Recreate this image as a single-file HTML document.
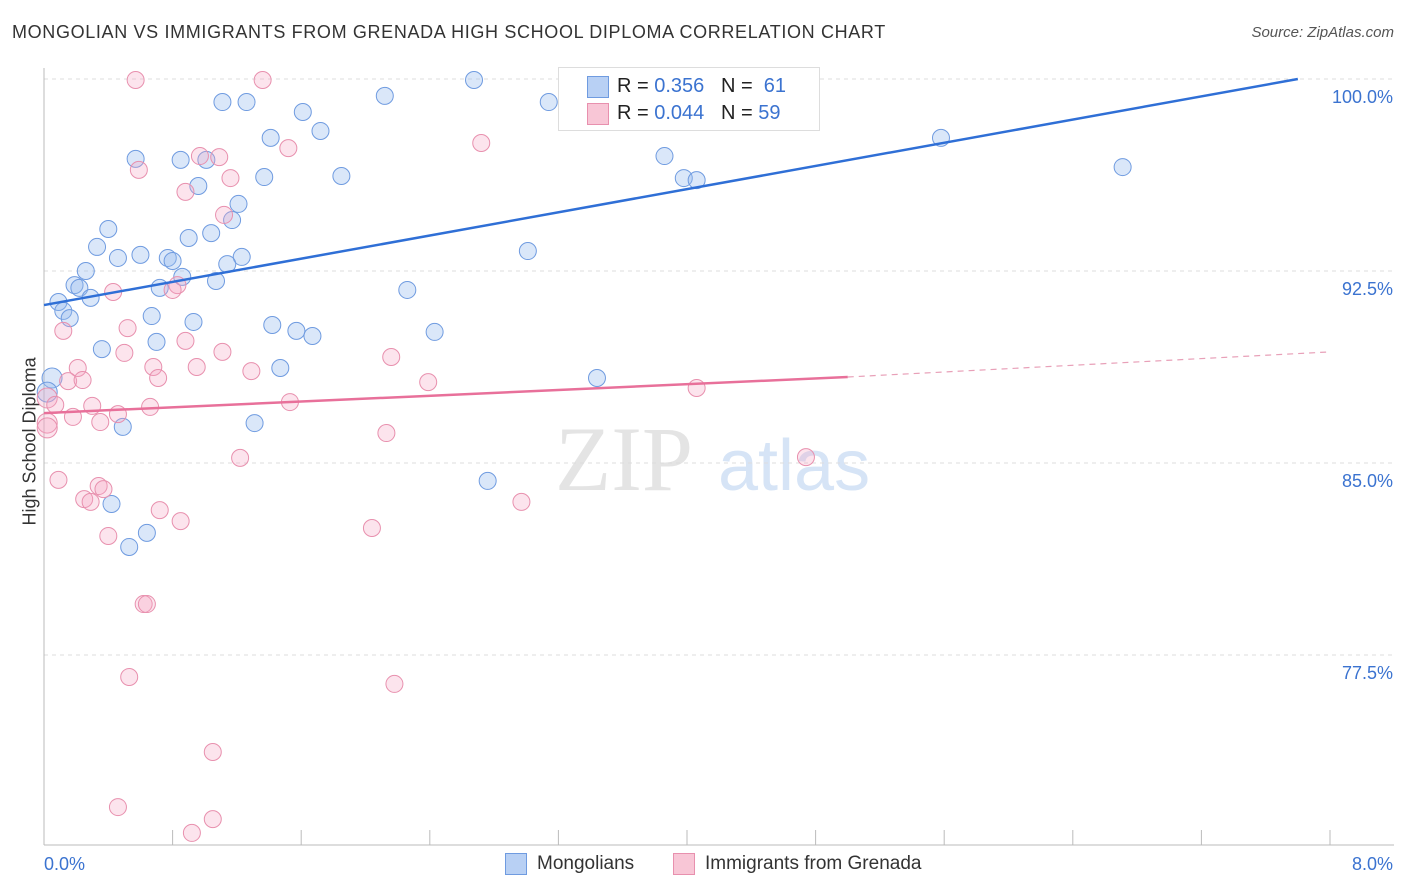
<!DOCTYPE html>
<html><head><meta charset="utf-8"><style>
body{margin:0;background:#fff;font-family:"Liberation Sans",sans-serif;}
#wrap{position:relative;width:1406px;height:892px;overflow:hidden;}
.t{position:absolute;white-space:nowrap;}
</style></head><body>
<div id="wrap">
<div class="t" style="left:12px;top:22px;font-size:18px;color:#333;letter-spacing:0.65px;">MONGOLIAN VS IMMIGRANTS FROM GRENADA HIGH SCHOOL DIPLOMA CORRELATION CHART</div>
<div class="t" style="right:12px;top:24px;font-size:15px;color:#555;font-style:italic;">Source: ZipAtlas.com</div>
<div class="t" style="left:-40px;top:445px;transform:rotate(-90deg);font-size:18px;color:#333;width:140px;text-align:center;">High School Diploma</div>
<svg id="svg" width="1406" height="892" style="position:absolute;left:0;top:0"></svg>
<div class="t" style="left:558px;top:67px;width:260px;height:62px;border:1px solid #ddd;background:#fff;">
 <div style="position:absolute;left:28px;top:8px;width:20px;height:20px;background:#b8d0f4;border:1px solid #6f9be0;"></div>
 <div style="position:absolute;left:58px;top:7px;font-size:20px;color:#222;">R = <span style="color:#3b73d0">0.356</span>&nbsp;&nbsp;&nbsp;N = <span style="color:#3b73d0">&nbsp;61</span></div>
 <div style="position:absolute;left:28px;top:35px;width:20px;height:20px;background:#f8c6d6;border:1px solid #e890ae;"></div>
 <div style="position:absolute;left:58px;top:34px;font-size:20px;color:#222;">R = <span style="color:#3b73d0">0.044</span>&nbsp;&nbsp;&nbsp;N = <span style="color:#3b73d0">59</span></div>
</div>
<div class="t" style="left:505px;top:853px;width:20px;height:20px;background:#b8d0f4;border:1px solid #6f9be0;"></div>
<div class="t" style="left:537px;top:853px;font-size:19px;color:#333;">Mongolians</div>
<div class="t" style="left:673px;top:853px;width:20px;height:20px;background:#f8c6d6;border:1px solid #e890ae;"></div>
<div class="t" style="left:705px;top:853px;font-size:19px;color:#333;">Immigrants from Grenada</div>
</div>
<script>
const yTicks=[100,92.5,85,77.5];
const yTickLabels=["100.0%","92.5%","85.0%","77.5%"];
const xTickLabels=["0.0%","8.0%"];
const blueX=[2.675,2.12,1.11,1.26,3.14,1.61,1.72,1.41,0.57,0.85,1.01,3.86,5.58,6.71,1.37,1.85,3.98,4.06,0.96,1.21,1.17,0.40,1.04,0.90,0.33,3.01,0.46,0.60,0.77,0.80,1.23,1.14,0.26,0.86,1.07,0.19,0.22,0.72,2.26,0.29,0.09,0.12,0.16,0.67,0.93,1.42,1.57,1.67,2.43,0.70,0.36,1.47,3.44,0.05,0.02,1.31,0.49,2.76,0.42,0.64,0.53];
const blueY=[99.96,99.34,99.10,99.10,99.10,98.71,97.97,97.70,96.88,96.84,96.84,96.99,97.70,96.56,96.17,96.21,96.13,96.05,95.82,95.12,94.49,94.14,93.98,93.79,93.44,93.28,93.01,93.13,93.01,92.89,93.05,92.77,92.50,92.27,92.11,91.95,91.84,91.84,91.76,91.45,91.29,90.94,90.66,90.74,90.51,90.39,90.16,89.96,90.12,89.73,89.45,88.71,88.32,88.32,87.77,86.56,86.41,84.30,83.40,82.27,81.72];
const pinkX=[0.57,1.36,2.72,1.52,0.97,1.09,0.59,1.16,0.88,1.12,0.43,0.83,0.80,0.12,0.52,0.88,0.50,1.11,2.16,0.68,0.21,0.95,1.29,0.71,0.15,0.24,2.39,4.06,0.02,0.30,0.66,1.53,0.07,0.46,0.18,0.35,0.02,0.02,2.13,1.22,4.74,0.09,0.34,0.37,0.25,0.29,2.97,0.72,0.85,2.04,0.40,0.62,0.64,0.53,2.18,1.05,0.46,1.05,0.92];
const pinkY=[99.96,99.96,97.50,97.30,96.99,96.95,96.45,96.13,95.59,94.69,91.68,91.95,91.76,90.16,90.27,89.77,89.30,89.34,89.14,88.75,88.71,88.75,88.59,88.32,88.20,88.24,88.16,87.93,87.54,87.23,87.19,87.38,87.27,86.91,86.80,86.60,86.56,86.37,86.17,85.20,85.23,84.34,84.10,83.98,83.59,83.48,83.48,83.16,82.73,82.46,82.15,79.49,79.49,76.64,76.37,73.71,71.56,71.09,70.55];
const blueTrend=[[0,91.17],[7.8,100]];
const pinkTrend=[[0,86.95],[5.0,88.36],[8.0,89.34]];
const X=v=>44+v*160.75, Y=v=>79+(100-v)*25.6;
const svg=document.getElementById('svg'),NS='http://www.w3.org/2000/svg';
function mk(tag,at){const e=document.createElementNS(NS,tag);for(const k in at)e.setAttribute(k,at[k]);svg.appendChild(e);return e;}
let w=mk('text',{x:555,y:490,'font-size':92,fill:'#e4e4e4','font-family':'Liberation Serif,serif'});w.textContent='ZIP';


let w2=mk('text',{x:718,y:490,'font-size':72,fill:'#d6e4f6','font-family':'Liberation Sans,sans-serif'});w2.textContent='atlas';


yTicks.forEach((t,i)=>{
 const g=mk('line',{x1:44,x2:1394,y1:Y(t),y2:Y(t),stroke:'#ddd','stroke-dasharray':'4,4'});
 
 
 const l=mk('text',{x:1393,y:Y(t)+24,'text-anchor':'end','font-size':18,fill:'#3b73d0'});l.textContent=yTickLabels[i];
 
 
});
let ax=mk('line',{x1:44,x2:1394,y1:845,y2:845,stroke:'#bbb'});


let ay=mk('line',{x1:44,x2:44,y1:68,y2:845,stroke:'#bbb'});


for(let i=0;i<=10;i++){const tk=mk('line',{x1:X(i*0.8),x2:X(i*0.8),y1:830,y2:845,stroke:'#bbb'});
 
 }
xTickLabels.forEach((s,i)=>{const l=mk('text',{x:i?1393:44,y:870,'text-anchor':i?'end':'start','font-size':18,fill:'#3b73d0'});l.textContent=s;
 
 });
function pts(xs,ys,fill,stroke,name){xs.forEach((x,i)=>{const r=x<0.06?10:8.5;const c=mk('circle',{cx:X(x),cy:Y(ys[i]),r:r,fill:fill,stroke:stroke,'stroke-width':1});
 
 });}
pts(blueX,blueY,'rgba(150,185,238,0.35)','#6f9be0','mongolian-point');
pts(pinkX,pinkY,'rgba(245,165,195,0.3)','#e890ae','grenada-point');
let bl=mk('line',{x1:X(blueTrend[0][0]),y1:Y(blueTrend[0][1]),x2:X(blueTrend[1][0]),y2:Y(blueTrend[1][1]),stroke:'#2f6fd6','stroke-width':2.5});


let pl=mk('line',{x1:X(pinkTrend[0][0]),y1:Y(pinkTrend[0][1]),x2:X(pinkTrend[1][0]),y2:Y(pinkTrend[1][1]),stroke:'#e8709a','stroke-width':2.5});


let pd=mk('line',{x1:X(pinkTrend[1][0]),y1:Y(pinkTrend[1][1]),x2:X(pinkTrend[2][0]),y2:Y(pinkTrend[2][1]),stroke:'#e8a0b8','stroke-width':1.2,'stroke-dasharray':'6,5'});


</script>
</body></html>
